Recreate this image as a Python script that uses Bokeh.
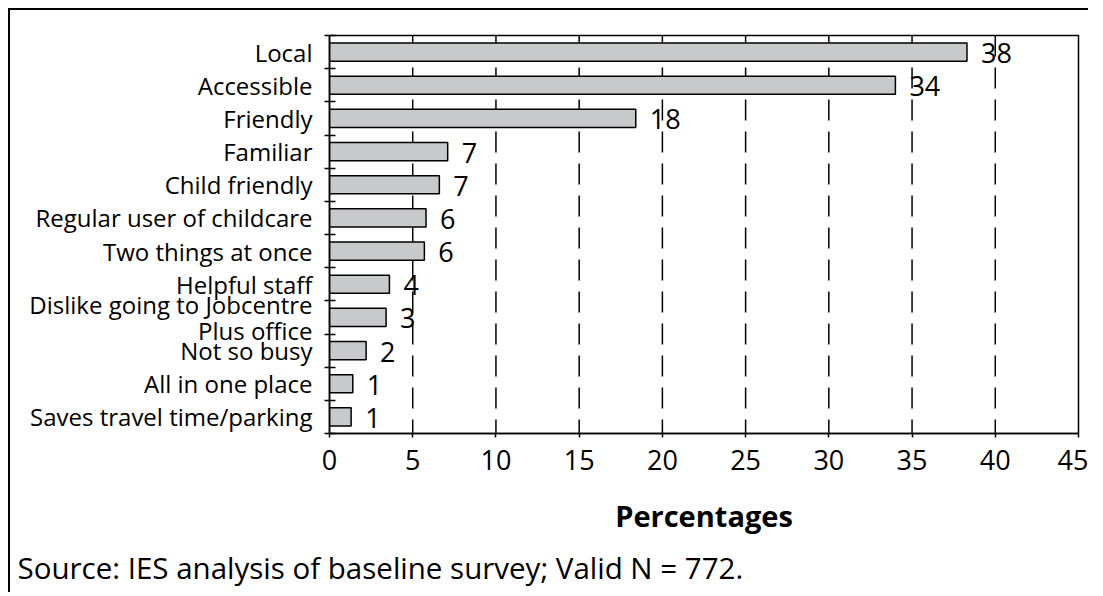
from bokeh.plotting import figure
from bokeh.models import Range1d, FixedTicker, Title, ColumnDataSource
from bokeh.embed import file_html
from bokeh.resources import INLINE
from bokeh.core.properties import value

categories = [
    "Local",
    "Accessible",
    "Friendly",
    "Familiar",
    "Child friendly",
    "Regular user of childcare",
    "Two things at once",
    "Helpful staff",
    "Dislike going to Jobcentre\nPlus office",
    "Not so busy",
    "All in one place",
    "Saves travel time/parking",
]
values = [38.3, 34.0, 18.4, 7.1, 6.6, 5.8, 5.7, 3.6, 3.4, 2.2, 1.4, 1.3]
value_labels = ["38", "34", "18", "7", "7", "6", "6", "4", "3", "2", "1", "1"]
x_ticks = [0, 5, 10, 15, 20, 25, 30, 35, 40, 45]
x_title = "Percentages"
source_note = "Source: IES analysis of baseline survey; Valid N = 772."

FONT = "Open Sans"
n = len(categories)
ys = [n - i - 0.5 for i in range(n)]
bounds = list(range(n + 1))

src = ColumnDataSource(dict(y=ys, v=values, lab=value_labels, cat=categories))

p = figure(width=1080, height=584, x_range=Range1d(0, 45), y_range=Range1d(0, n),
           output_backend="svg", toolbar_location=None,
           min_border_left=319, min_border_top=25, min_border_right=12, min_border_bottom=159)
p.styles = {"margin-left": "8px", "margin-top": "8px",
            "border-top": "2.5px solid black", "border-left": "2.5px solid black"}

p.background_fill_color = "white"
p.border_fill_color = "white"
p.outline_line_color = "black"
p.outline_line_width = 1.5
p.grid.visible = False

# dashed vertical gridlines from tick list (drawn top -> bottom)
grid_x = [t for t in x_ticks if 0 < t < 45]
p.segment(x0=grid_x, x1=grid_x, y0=[n] * len(grid_x), y1=[0] * len(grid_x),
          line_color="black", line_width=1.5, line_dash="21 11")

p.hbar(y="y", right="v", left=0, height=0.55, source=src,
       fill_color="#c8c9cb", line_color="black", line_width=1.5)

p.text(x="v", y="y", text="lab", source=src, x_offset=14, y_offset=1,
       text_align="left", text_baseline="middle",
       text_font=value(FONT), text_font_size="27px", text_color="black")

xa = p.xaxis[0]
xa.ticker = FixedTicker(ticks=x_ticks)
xa.axis_line_width = 1.5
xa.major_tick_line_width = 1.5
xa.major_tick_in = 0
xa.major_tick_out = 4
xa.minor_tick_line_color = None
xa.major_label_text_font = FONT
xa.major_label_text_font_size = "27px"
xa.major_label_text_color = "black"
xa.major_label_standoff = 12
xa.axis_label = x_title
xa.axis_label_text_font = FONT
xa.axis_label_text_font_style = "bold"
xa.axis_label_text_font_size = "29px"
xa.axis_label_text_color = "black"
xa.axis_label_standoff = 23

ya = p.yaxis[0]
ya.ticker = FixedTicker(ticks=ys, minor_ticks=bounds)
ya.major_label_overrides = {y: c for y, c in zip(ys, categories)}
ya.axis_line_width = 1.5
ya.major_tick_line_color = None
ya.major_tick_in = 0
ya.major_tick_out = 0
ya.minor_tick_line_width = 1.5
ya.minor_tick_in = 6
ya.minor_tick_out = 5
ya.major_label_text_font = FONT
ya.major_label_text_font_size = "24px"
ya.major_label_text_line_height = 0.8
ya.major_label_text_color = "black"
ya.major_label_standoff = 12

note = Title(text=source_note, align="left", offset=-312,
             text_font=FONT, text_font_size="29.5px", text_font_style="normal",
             text_color="black", standoff=14)
p.add_layout(note, "below")

open("out.html", "w").write(file_html(p, INLINE))
